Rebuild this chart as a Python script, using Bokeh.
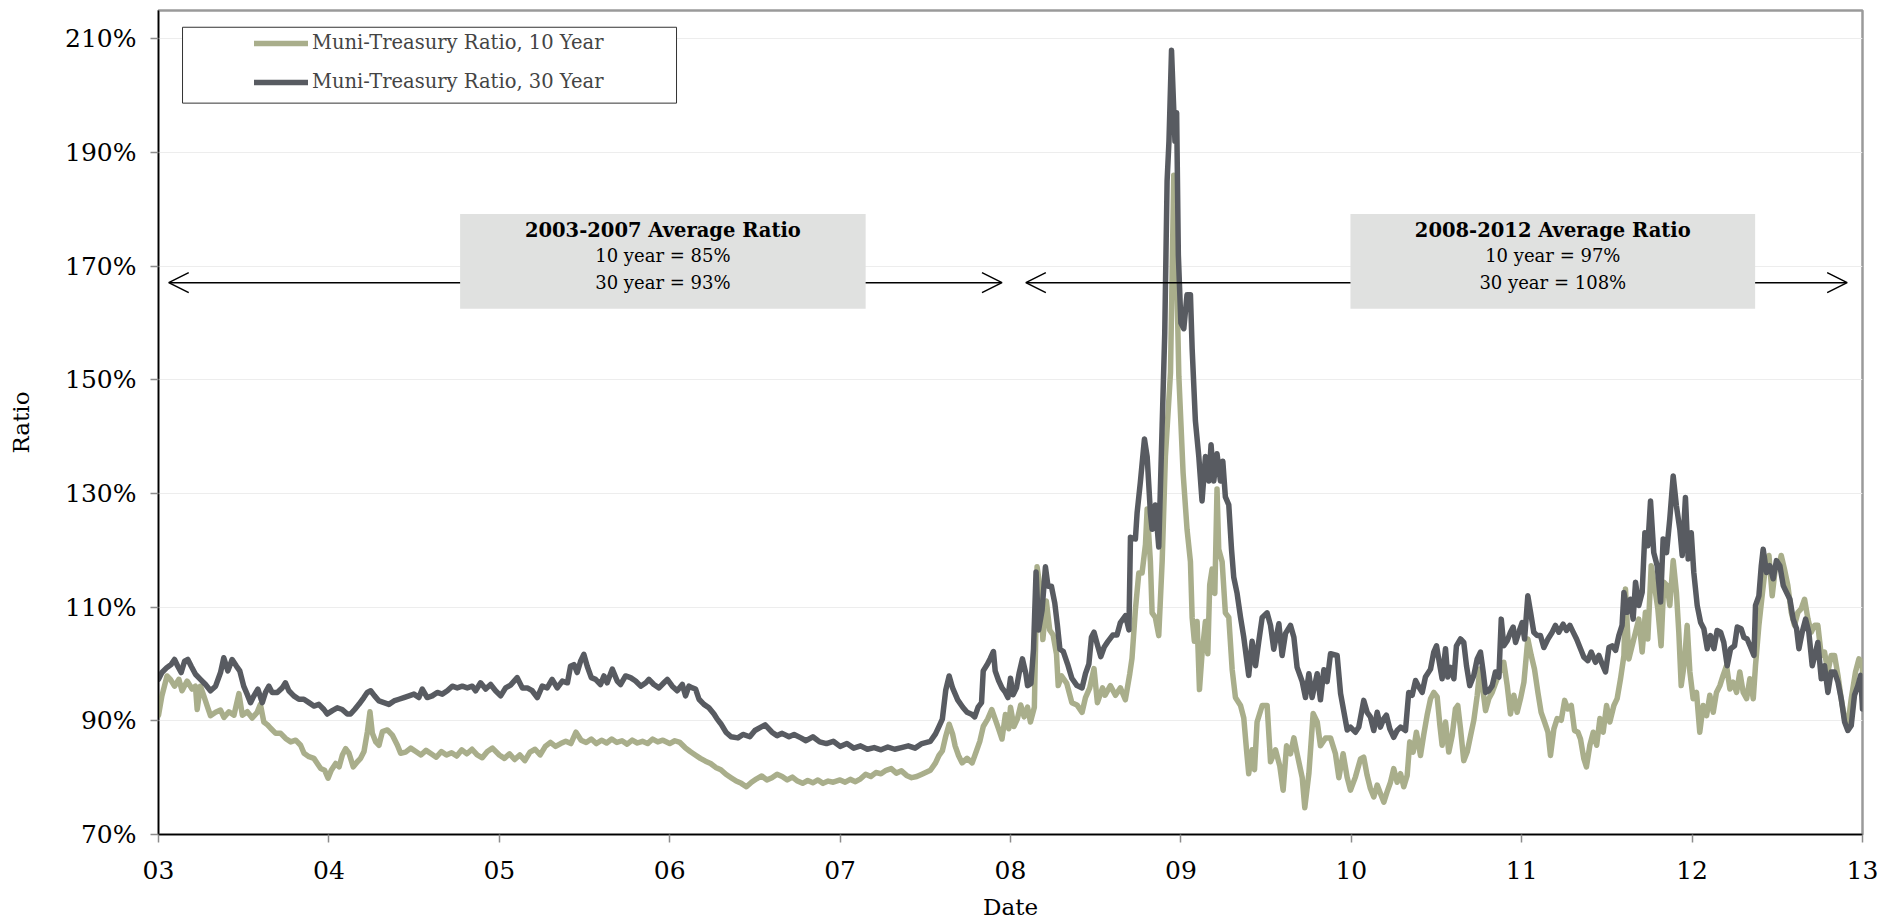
from bokeh.plotting import figure
from bokeh.models import (Range1d, FixedTicker, Legend, LegendItem, Arrow, OpenHead,
                          BoxAnnotation, ColumnDataSource, Label)
from bokeh.embed import file_html
from bokeh.resources import INLINE

# ---------------- data ----------------
# x = fractional year, y = muni / treasury ratio in %
ratio10_t = [
    2003.0, 2003.02, 2003.05, 2003.07, 2003.094, 2003.12, 2003.138, 2003.168, 2003.197, 2003.217,
    2003.227, 2003.246, 2003.266, 2003.286, 2003.305, 2003.335, 2003.364, 2003.384, 2003.413, 2003.443,
    2003.472, 2003.492, 2003.521, 2003.55, 2003.579, 2003.598, 2003.618, 2003.64, 2003.658, 2003.688,
    2003.717, 2003.746, 2003.776, 2003.805, 2003.834, 2003.854, 2003.883, 2003.912, 2003.932, 2003.952,
    2003.975, 2003.995, 2004.014, 2004.04, 2004.06, 2004.079, 2004.098, 2004.118, 2004.143, 2004.167,
    2004.186, 2004.206, 2004.226, 2004.241, 2004.255, 2004.275, 2004.294, 2004.314, 2004.343, 2004.372,
    2004.402, 2004.421, 2004.45, 2004.48, 2004.51, 2004.54, 2004.57, 2004.6, 2004.63, 2004.66,
    2004.69, 2004.72, 2004.75, 2004.78, 2004.81, 2004.84, 2004.87, 2004.9, 2004.93, 2004.96,
    2005.0, 2005.03, 2005.06, 2005.09, 2005.12, 2005.15, 2005.18, 2005.21, 2005.24, 2005.27,
    2005.3, 2005.33, 2005.36, 2005.39, 2005.42, 2005.45, 2005.48, 2005.51, 2005.54, 2005.57,
    2005.6, 2005.63, 2005.66, 2005.69, 2005.72, 2005.75, 2005.78, 2005.81, 2005.84, 2005.87,
    2005.9, 2005.93, 2005.96, 2006.0, 2006.03, 2006.06, 2006.09, 2006.12, 2006.15, 2006.18,
    2006.21, 2006.24, 2006.27, 2006.3, 2006.33, 2006.36, 2006.39, 2006.42, 2006.45, 2006.48,
    2006.51, 2006.54, 2006.57, 2006.6, 2006.63, 2006.66, 2006.69, 2006.72, 2006.75, 2006.78,
    2006.81, 2006.84, 2006.87, 2006.9, 2006.93, 2006.96, 2007.0, 2007.03, 2007.06, 2007.09,
    2007.12, 2007.15, 2007.18, 2007.21, 2007.24, 2007.27, 2007.3, 2007.33, 2007.36, 2007.39,
    2007.42, 2007.45, 2007.48, 2007.53, 2007.56, 2007.58, 2007.6, 2007.62, 2007.64, 2007.66,
    2007.675, 2007.695, 2007.716, 2007.745, 2007.775, 2007.8, 2007.82, 2007.84, 2007.866, 2007.89,
    2007.91, 2007.93, 2007.95, 2007.97, 2007.99, 2008.0, 2008.02, 2008.04, 2008.06, 2008.08,
    2008.1, 2008.117, 2008.14, 2008.156, 2008.176, 2008.19, 2008.21, 2008.23, 2008.25, 2008.27,
    2008.28, 2008.3, 2008.33, 2008.36, 2008.39, 2008.42, 2008.44, 2008.465, 2008.49, 2008.51,
    2008.54, 2008.555, 2008.586, 2008.616, 2008.645, 2008.674, 2008.7, 2008.713, 2008.733, 2008.753,
    2008.772, 2008.792, 2008.802, 2008.821, 2008.831, 2008.85, 2008.87, 2008.89, 2008.909, 2008.939,
    2008.958, 2008.975, 2008.988, 2009.013, 2009.036, 2009.056, 2009.066, 2009.079, 2009.095, 2009.109,
    2009.124, 2009.144, 2009.158, 2009.169, 2009.183, 2009.199, 2009.212, 2009.222, 2009.242, 2009.261,
    2009.281, 2009.301, 2009.32, 2009.35, 2009.369, 2009.385, 2009.398, 2009.418, 2009.432, 2009.447,
    2009.477, 2009.506, 2009.526, 2009.555, 2009.58, 2009.6, 2009.62, 2009.643, 2009.663, 2009.682,
    2009.712, 2009.727, 2009.751, 2009.776, 2009.8, 2009.819, 2009.849, 2009.878, 2009.907, 2009.927,
    2009.952, 2009.976, 2009.995, 2010.024, 2010.054, 2010.073, 2010.093, 2010.112, 2010.132, 2010.152,
    2010.171, 2010.191, 2010.21, 2010.23, 2010.249, 2010.269, 2010.289, 2010.308, 2010.328, 2010.343,
    2010.363, 2010.382, 2010.406, 2010.426, 2010.445, 2010.465, 2010.484, 2010.504, 2010.52, 2010.533,
    2010.553, 2010.572, 2010.592, 2010.611, 2010.625, 2010.641, 2010.66, 2010.68, 2010.7, 2010.719,
    2010.739, 2010.754, 2010.774, 2010.788, 2010.807, 2010.827, 2010.856, 2010.876, 2010.895, 2010.915,
    2010.934, 2010.954, 2010.973, 2010.993, 2011.013, 2011.036, 2011.056, 2011.075, 2011.095, 2011.114,
    2011.134, 2011.154, 2011.169, 2011.189, 2011.208, 2011.232, 2011.252, 2011.271, 2011.291, 2011.31,
    2011.33, 2011.345, 2011.365, 2011.38, 2011.4, 2011.42, 2011.44, 2011.459, 2011.478, 2011.498,
    2011.517, 2011.541, 2011.56, 2011.58, 2011.6, 2011.609, 2011.629, 2011.648, 2011.668, 2011.687,
    2011.707, 2011.726, 2011.74, 2011.76, 2011.779, 2011.799, 2011.818, 2011.834, 2011.854, 2011.869,
    2011.889, 2011.908, 2011.922, 2011.936, 2011.955, 2011.971, 2011.987, 2012.006, 2012.026, 2012.045,
    2012.065, 2012.085, 2012.104, 2012.124, 2012.143, 2012.163, 2012.182, 2012.202, 2012.222, 2012.241,
    2012.261, 2012.28, 2012.3, 2012.32, 2012.339, 2012.359, 2012.372, 2012.392, 2012.411, 2012.431,
    2012.451, 2012.47, 2012.49, 2012.509, 2012.523, 2012.542, 2012.562, 2012.582, 2012.601, 2012.621,
    2012.64, 2012.66, 2012.68, 2012.699, 2012.719, 2012.738, 2012.758, 2012.777, 2012.797, 2012.816,
    2012.836, 2012.856, 2012.875, 2012.895, 2012.914, 2012.934, 2012.959, 2012.979, 2012.998, 2013.0,
]
ratio10_v = [
    91.0, 94.4, 97.9, 97.3, 96.1, 97.3, 95.3, 97.0, 95.6, 96.1,
    92.0, 96.1, 94.4, 92.6, 90.9, 91.5, 91.9, 90.6, 91.6, 91.0,
    94.8, 91.0, 91.6, 90.5, 91.5, 92.9, 89.8, 89.3, 88.7, 87.8,
    87.8, 86.9, 86.3, 86.6, 85.7, 84.3, 83.7, 83.4, 82.5, 81.6,
    81.3, 79.9, 81.3, 82.5, 81.9, 84.0, 85.1, 84.3, 81.9, 82.8,
    83.4, 84.6, 88.1, 91.6, 87.8, 86.3, 85.7, 88.1, 88.4, 87.5,
    85.7, 84.3, 84.5, 85.2, 84.6, 84.0, 84.8, 84.2, 83.6, 84.6,
    84.0, 84.4, 83.8, 84.9, 84.2, 85.0, 84.0, 83.5, 84.6, 85.2,
    84.0, 83.4, 84.2, 83.2, 84.0, 83.0, 84.5, 85.0, 84.0, 85.5,
    86.2, 85.5, 86.0, 86.4, 86.0, 88.0, 86.6, 86.2, 86.8, 86.0,
    86.6, 86.1, 86.8, 86.2, 86.5, 85.9, 86.6, 86.1, 86.4, 86.0,
    86.8, 86.3, 86.6, 86.0, 86.5, 86.2, 85.3, 84.6, 84.0, 83.4,
    82.9, 82.5, 81.8, 81.4, 80.6, 80.0, 79.4, 79.0, 78.4, 79.2,
    79.8, 80.3, 79.6, 80.0, 80.6, 80.2, 79.6, 80.1, 79.4, 79.0,
    79.5, 79.1, 79.6, 79.0, 79.4, 79.2, 79.6, 79.2, 79.7, 79.3,
    79.8, 80.6, 80.2, 80.9, 80.7, 81.3, 81.6, 80.8, 81.2, 80.4,
    80.0, 80.2, 80.6, 81.3, 82.6, 83.9, 84.7, 87.3, 89.4, 87.7,
    85.6, 83.9, 82.6, 83.4, 82.6, 84.7, 86.4, 89.0, 90.3, 92.0,
    90.3, 88.6, 86.8, 91.1, 88.6, 92.4, 89.0, 90.3, 92.8, 90.7,
    92.4, 89.8, 92.4, 117.1, 112.9, 104.3, 111.1, 106.0, 105.1, 101.7,
    96.2, 97.9, 96.6, 93.2, 92.8, 91.5, 94.1, 95.8, 99.2, 93.2,
    95.8, 94.5, 96.2, 94.5, 95.8, 93.7, 98.3, 101.0, 109.6, 116.0,
    116.0, 121.0, 127.3, 118.0, 109.0, 108.2, 105.0, 118.0, 136.5, 151.3,
    186.0, 169.0, 150.6, 133.6, 123.7, 118.0, 108.2, 104.0, 107.5, 95.5,
    101.8, 107.5, 101.8, 113.9, 116.7, 112.4, 130.8, 120.2, 118.0, 109.0,
    108.2, 99.0, 94.1, 92.7, 90.5, 84.9, 80.7, 84.9, 81.4, 89.8,
    92.7, 92.7, 82.8, 84.9, 82.1, 77.8, 85.6, 84.2, 87.0, 84.2,
    80.0, 74.7, 80.7, 91.3, 89.8, 85.6, 87.0, 87.0, 84.2, 80.0,
    84.2, 80.0, 77.8, 80.1, 83.3, 83.6, 80.4, 78.1, 76.6, 78.7,
    77.2, 75.7, 77.5, 79.2, 81.6, 79.2, 80.7, 78.4, 80.4, 86.3,
    84.5, 88.0, 83.9, 87.7, 91.0, 93.9, 95.0, 94.2, 89.2, 85.7,
    89.8, 84.5, 87.4, 92.1, 92.7, 88.6, 83.0, 84.5, 87.4, 90.1,
    94.5, 99.1, 95.0, 91.8, 93.9, 95.0, 97.4, 99.1, 100.3, 96.2,
    91.2, 94.5, 91.5, 93.9, 96.8, 104.4, 101.5, 99.1, 95.0, 91.5,
    89.8, 88.0, 83.9, 88.6, 90.4, 90.1, 93.6, 92.1, 92.7, 88.3,
    88.0, 86.8, 83.3, 81.9, 85.7, 88.0, 85.7, 90.4, 88.0, 92.7,
    89.8, 92.7, 93.9, 97.4, 101.5, 113.2, 100.9, 103.2, 105.6, 107.9,
    102.1, 109.1, 104.4, 117.3, 113.8, 109.7, 103.2, 114.4, 113.8, 110.3,
    118.2, 112.6, 105.6, 96.2, 100.3, 106.8, 98.6, 93.9, 95.0, 88.0,
    92.7, 90.9, 94.5, 91.5, 95.0, 96.2, 98.0, 99.7, 95.6, 96.8,
    95.0, 98.6, 95.0, 93.9, 97.4, 93.9, 99.7, 106.8, 112.0, 117.3,
    119.1, 112.0, 117.3, 117.3, 119.1, 116.7, 113.8, 109.1, 106.8, 109.1,
    109.7, 111.4, 107.9, 105.6, 106.8, 106.8, 101.5, 102.1, 98.6, 101.5,
    101.5, 98.0, 93.9, 90.4, 89.2, 93.9, 98.6, 100.9, 100.3, 98.6,
]

ratio30_t = [
    2003.0, 2003.02, 2003.05, 2003.074, 2003.094, 2003.113, 2003.133, 2003.153, 2003.172, 2003.192,
    2003.217, 2003.246, 2003.276, 2003.305, 2003.335, 2003.364, 2003.383, 2003.407, 2003.432, 2003.458,
    2003.477, 2003.5, 2003.52, 2003.54, 2003.56, 2003.583, 2003.609, 2003.628, 2003.648, 2003.667,
    2003.697, 2003.726, 2003.745, 2003.765, 2003.794, 2003.824, 2003.853, 2003.883, 2003.912, 2003.941,
    2003.971, 2003.99, 2004.02, 2004.049, 2004.078, 2004.108, 2004.127, 2004.151, 2004.176, 2004.205,
    2004.225, 2004.245, 2004.268, 2004.294, 2004.323, 2004.352, 2004.382, 2004.411, 2004.44, 2004.47,
    2004.499, 2004.528, 2004.548, 2004.577, 2004.606, 2004.636, 2004.665, 2004.695, 2004.724, 2004.753,
    2004.783, 2004.812, 2004.841, 2004.861, 2004.89, 2004.92, 2004.949, 2004.978, 2005.008, 2005.037,
    2005.066, 2005.105, 2005.135, 2005.164, 2005.193, 2005.223, 2005.252, 2005.281, 2005.31, 2005.34,
    2005.37, 2005.4, 2005.418, 2005.438, 2005.457, 2005.477, 2005.496, 2005.516, 2005.54, 2005.565,
    2005.594, 2005.614, 2005.633, 2005.663, 2005.692, 2005.712, 2005.741, 2005.77, 2005.8, 2005.83,
    2005.86, 2005.878, 2005.907, 2005.937, 2005.966, 2005.986, 2006.015, 2006.044, 2006.074, 2006.093,
    2006.113, 2006.133, 2006.152, 2006.172, 2006.201, 2006.23, 2006.26, 2006.279, 2006.3, 2006.33,
    2006.36, 2006.4, 2006.43, 2006.47, 2006.5, 2006.53, 2006.56, 2006.6, 2006.63, 2006.66,
    2006.7, 2006.73, 2006.77, 2006.8, 2006.84, 2006.88, 2006.92, 2006.96, 2007.0, 2007.04,
    2007.08, 2007.12, 2007.16, 2007.2, 2007.24, 2007.28, 2007.32, 2007.36, 2007.4, 2007.44,
    2007.48, 2007.53, 2007.56, 2007.58, 2007.6, 2007.62, 2007.64, 2007.66, 2007.69, 2007.72,
    2007.745, 2007.775, 2007.79, 2007.81, 2007.83, 2007.84, 2007.865, 2007.88, 2007.9, 2007.91,
    2007.93, 2007.95, 2007.97, 2007.985, 2008.0, 2008.015, 2008.035, 2008.05, 2008.07, 2008.09,
    2008.1, 2008.12, 2008.135, 2008.15, 2008.165, 2008.185, 2008.205, 2008.22, 2008.24, 2008.26,
    2008.275, 2008.29, 2008.31, 2008.335, 2008.36, 2008.39, 2008.42, 2008.44, 2008.46, 2008.475,
    2008.49, 2008.51, 2008.53, 2008.55, 2008.57, 2008.6, 2008.625, 2008.645, 2008.675, 2008.695,
    2008.704, 2008.733, 2008.743, 2008.762, 2008.786, 2008.802, 2008.821, 2008.831, 2008.85, 2008.87,
    2008.89, 2008.905, 2008.919, 2008.93, 2008.945, 2008.955, 2008.965, 2008.975, 2008.985, 2009.0,
    2009.017, 2009.036, 2009.056, 2009.066, 2009.085, 2009.105, 2009.124, 2009.144, 2009.164, 2009.177,
    2009.193, 2009.212, 2009.232, 2009.246, 2009.261, 2009.281, 2009.297, 2009.31, 2009.33, 2009.35,
    2009.369, 2009.398, 2009.418, 2009.438, 2009.457, 2009.477, 2009.506, 2009.526, 2009.545, 2009.575,
    2009.594, 2009.614, 2009.643, 2009.663, 2009.682, 2009.712, 2009.731, 2009.751, 2009.77, 2009.8,
    2009.819, 2009.839, 2009.858, 2009.878, 2009.917, 2009.937, 2009.976, 2009.995, 2010.024, 2010.044,
    2010.073, 2010.093, 2010.112, 2010.132, 2010.152, 2010.171, 2010.191, 2010.206, 2010.226, 2010.249,
    2010.269, 2010.289, 2010.318, 2010.337, 2010.357, 2010.377, 2010.396, 2010.416, 2010.435, 2010.465,
    2010.484, 2010.5, 2010.52, 2010.533, 2010.553, 2010.566, 2010.582, 2010.602, 2010.617, 2010.641,
    2010.66, 2010.676, 2010.695, 2010.719, 2010.739, 2010.758, 2010.774, 2010.788, 2010.807, 2010.827,
    2010.846, 2010.866, 2010.88, 2010.895, 2010.915, 2010.934, 2010.95, 2010.964, 2010.983, 2011.003,
    2011.017, 2011.036, 2011.052, 2011.071, 2011.091, 2011.11, 2011.13, 2011.154, 2011.179, 2011.198,
    2011.218, 2011.243, 2011.263, 2011.283, 2011.302, 2011.322, 2011.345, 2011.365, 2011.388, 2011.408,
    2011.433, 2011.453, 2011.472, 2011.492, 2011.512, 2011.531, 2011.551, 2011.57, 2011.589, 2011.6,
    2011.619, 2011.638, 2011.654, 2011.668, 2011.687, 2011.707, 2011.723, 2011.74, 2011.756, 2011.775,
    2011.795, 2011.815, 2011.83, 2011.85, 2011.869, 2011.889, 2011.908, 2011.928, 2011.942, 2011.961,
    2011.977, 2011.995, 2012.01, 2012.03, 2012.05, 2012.069, 2012.089, 2012.108, 2012.128, 2012.147,
    2012.167, 2012.186, 2012.206, 2012.226, 2012.249, 2012.265, 2012.288, 2012.304, 2012.323, 2012.343,
    2012.363, 2012.372, 2012.392, 2012.406, 2012.417, 2012.437, 2012.456, 2012.476, 2012.495, 2012.515,
    2012.535, 2012.554, 2012.574, 2012.593, 2012.613, 2012.627, 2012.646, 2012.666, 2012.685, 2012.705,
    2012.725, 2012.738, 2012.758, 2012.777, 2012.797, 2012.816, 2012.836, 2012.856, 2012.875, 2012.895,
    2012.914, 2012.934, 2012.953, 2012.973, 2012.989, 2013.0,
]
ratio30_v = [
    97.3, 98.5, 99.4, 99.9, 100.8, 99.6, 98.5, 100.5, 100.8, 99.6,
    98.2, 97.3, 96.4, 95.3, 96.1, 98.5, 101.1, 98.8, 100.8, 99.6,
    98.8, 96.1, 94.7, 93.2, 94.4, 95.6, 93.2, 95.0, 96.1, 95.0,
    95.0, 95.8, 96.7, 95.3, 94.4, 93.8, 93.8, 93.2, 92.6, 92.9,
    92.0, 91.2, 91.8, 92.3, 92.0, 91.2, 91.2, 92.0, 92.9, 94.1,
    95.0, 95.3, 94.4, 93.5, 93.2, 92.9, 93.5, 93.8, 94.1, 94.4,
    94.7, 94.1, 95.6, 94.1, 94.4, 95.0, 94.7, 95.3, 96.1, 95.8,
    96.1, 95.8, 96.1, 95.3, 96.7, 95.6, 96.4, 95.3, 94.4, 95.8,
    96.3, 97.6, 95.8, 95.8, 95.3, 94.1, 96.1, 95.8, 97.3, 95.8,
    97.0, 96.7, 99.6, 99.9, 98.5, 100.5, 101.7, 99.6, 97.6, 97.3,
    96.4, 97.9, 96.7, 99.1, 97.0, 96.4, 97.9, 97.6, 97.0, 96.1,
    96.7, 97.3, 96.4, 95.8, 96.7, 97.3, 96.1, 95.3, 96.4, 94.4,
    96.1, 95.8, 95.6, 93.8, 92.9, 92.3, 91.2, 90.3, 89.5, 88.0,
    87.2, 87.0, 87.6, 87.2, 88.3, 88.8, 89.3, 88.0, 87.4, 87.8,
    87.2, 87.6, 87.0, 86.5, 87.2, 86.3, 86.0, 86.4, 85.5, 86.0,
    85.2, 85.6, 85.0, 85.3, 84.9, 85.4, 85.0, 85.3, 85.6, 85.2,
    86.0, 86.4, 87.7, 89.0, 90.3, 95.4, 97.9, 95.8, 93.7, 92.4,
    91.5, 91.1, 90.7, 92.4, 93.2, 98.8, 100.0, 100.9, 102.2, 98.8,
    97.1, 95.8, 95.0, 94.1, 97.5, 94.6, 95.8, 98.3, 100.9, 98.3,
    96.2, 96.6, 102.6, 116.2, 106.0, 109.4, 117.1, 113.7, 113.7, 110.7,
    106.9, 102.6, 102.2, 100.0, 97.5, 96.2, 95.8, 98.3, 100.0, 104.7,
    105.6, 103.4, 101.3, 103.0, 103.9, 105.1, 105.1, 107.3, 108.5, 106.0,
    122.3, 122.0, 126.6, 132.0, 139.6, 136.5, 126.6, 123.7, 128.0, 120.6,
    142.0, 158.0, 185.0, 192.0, 208.0, 200.0, 192.0, 197.0, 172.0, 160.0,
    159.0, 165.0, 165.0, 155.5, 142.8, 136.5, 128.7, 136.5, 132.2, 138.6,
    132.2, 137.0, 132.2, 135.7, 129.4, 128.0, 120.2, 115.3, 112.4, 108.2,
    104.7, 98.0, 104.0, 99.7, 104.0, 108.2, 109.0, 106.8, 102.6, 107.1,
    101.5, 105.4, 106.8, 104.7, 99.4, 96.9, 94.1, 98.3, 94.1, 98.3,
    93.7, 99.0, 96.9, 101.8, 101.5, 94.8, 88.4, 88.9, 88.0, 88.9,
    93.6, 91.5, 90.7, 88.3, 91.5, 88.9, 90.4, 91.0, 88.6, 87.1,
    88.3, 88.9, 88.3, 95.0, 94.5, 97.1, 96.0, 95.0, 97.7, 99.1,
    102.1, 103.2, 99.7, 97.4, 102.7, 97.7, 99.4, 97.4, 103.2, 104.4,
    103.8, 99.7, 96.2, 98.0, 100.9, 102.1, 98.6, 95.0, 95.3, 96.2,
    98.6, 97.7, 107.9, 103.2, 104.1, 105.6, 106.5, 103.8, 105.6, 107.3,
    104.4, 112.0, 109.1, 105.6, 105.0, 105.0, 102.9, 104.4, 105.6, 106.8,
    105.6, 107.0, 105.9, 106.8, 105.6, 104.4, 102.7, 101.2, 100.6, 102.1,
    100.3, 101.5, 100.0, 98.6, 102.9, 103.2, 102.4, 105.0, 106.8, 112.6,
    109.1, 111.4, 107.9, 114.4, 110.3, 112.6, 123.1, 120.8, 128.7, 119.6,
    117.3, 110.9, 122.0, 119.6, 125.5, 133.1, 127.8, 123.7, 119.1, 129.3,
    118.5, 123.1, 116.1, 110.3, 107.3, 106.2, 102.7, 105.0, 102.7, 105.9,
    105.6, 103.8, 99.7, 102.7, 103.2, 106.5, 106.2, 104.7, 104.4, 103.0,
    101.5, 110.3, 112.0, 117.3, 120.2, 116.1, 117.3, 115.0, 118.2, 117.3,
    113.8, 112.6, 111.4, 107.9, 106.2, 102.7, 105.6, 107.9, 105.6, 99.7,
    102.1, 103.8, 97.4, 99.7, 95.0, 98.6, 98.6, 96.8, 93.9, 89.8,
    88.3, 89.2, 94.5, 96.2, 98.0, 92.1,
]

series_names = ["Muni-Treasury Ratio, 10 Year", "Muni-Treasury Ratio, 30 Year"]
series_colors = ["#A9AE8B", "#585B61"]

y_ticks = [70, 90, 110, 130, 150, 170, 190, 210]
y_labels = ["70%", "90%", "110%", "130%", "150%", "170%", "190%", "210%"]
x_ticks = [2003, 2004, 2005, 2006, 2007, 2008, 2009, 2010, 2011, 2012, 2013]
x_labels = ["03", "04", "05", "06", "07", "08", "09", "10", "11", "12", "13"]

period_titles = ["2003-2007 Average Ratio", "2008-2012 Average Ratio"]
period_10yr = ["10 year = 85%", "10 year = 97%"]
period_30yr = ["30 year = 93%", "30 year = 108%"]

# annotation placement (data units)
arrow_x_start = [2003.06, 2008.09]
arrow_x_end = [2007.95, 2012.91]
arrow_y = 167.1
box_left = [2004.77, 2009.995]
box_right = [2007.15, 2012.37]
box_top = 179.2
box_bottom = 162.5
text_y = [176.2, 171.8, 167.1]
legend_frame = dict(left=2003.141, right=2006.04, top=212.05, bottom=198.7)

FONT = "DejaVu Serif"

# ---------------- figure ----------------
p = figure(width=1890, height=922,
           x_range=Range1d(2003, 2013), y_range=Range1d(70, 215),
           output_backend="svg", toolbar_location=None,
           min_border_left=158, min_border_right=28,
           min_border_top=10, min_border_bottom=86)
p.background_fill_color = "white"
p.border_fill_color = "white"
p.outline_line_color = "#9A9A9A"
p.outline_line_width = 2.5

p.xgrid.visible = False
p.ygrid.grid_line_color = "#EDEDED"
p.ygrid.grid_line_width = 1

for ax in (p.xaxis[0], p.yaxis[0]):
    ax.axis_line_color = "black"
    ax.axis_line_width = 1.5
    ax.major_tick_line_color = "#8C8C8C"
    ax.major_tick_line_width = 1.5
    ax.major_tick_out = 8
    ax.major_tick_in = 0
    ax.minor_tick_line_color = None
    ax.major_label_text_font = FONT
    ax.major_label_text_font_size = "25px"
    ax.major_label_text_color = "black"
    ax.axis_label_text_font = FONT
    ax.axis_label_text_font_size = "23px"
    ax.axis_label_text_font_style = "normal"
    ax.axis_label_text_color = "black"

p.yaxis.ticker = FixedTicker(ticks=y_ticks)
p.yaxis.major_label_overrides = {t: l for t, l in zip(y_ticks, y_labels)}
p.yaxis.major_label_standoff = 14
p.yaxis.axis_label = "Ratio"
p.yaxis.axis_label_standoff = 28

p.xaxis.ticker = FixedTicker(ticks=x_ticks)
p.xaxis.major_label_overrides = {t: l for t, l in zip(x_ticks, x_labels)}
p.xaxis.major_label_standoff = 18
p.xaxis.axis_label = "Date"
p.xaxis.axis_label_standoff = 12

src10 = ColumnDataSource(dict(x=ratio10_t, y=ratio10_v))
src30 = ColumnDataSource(dict(x=ratio30_t, y=ratio30_v))
r10 = p.line("x", "y", source=src10, line_color=series_colors[0], line_width=5.5,
             line_join="round", line_cap="round")
r30 = p.line("x", "y", source=src30, line_color=series_colors[1], line_width=5.5,
             line_join="round", line_cap="round")

# arrows (behind the grey boxes)
for xs, xe in zip(arrow_x_start, arrow_x_end):
    p.add_layout(Arrow(start=OpenHead(size=20, line_width=1.5, line_color="black"),
                       end=OpenHead(size=20, line_width=1.5, line_color="black"),
                       x_start=xs, y_start=arrow_y, x_end=xe, y_end=arrow_y,
                       line_width=1.5, line_color="black"))

for i in range(2):
    p.add_layout(BoxAnnotation(left=box_left[i], right=box_right[i], top=box_top,
                               bottom=box_bottom, fill_color="#E0E1E0", fill_alpha=1.0,
                               line_alpha=0))
    cx = (box_left[i] + box_right[i]) / 2
    p.add_layout(Label(x=cx, y=text_y[0], text=period_titles[i], text_align="center",
                       text_baseline="middle", text_font=FONT, text_font_size="19.5px",
                       text_font_style="bold", text_color="black"))
    p.add_layout(Label(x=cx, y=text_y[1], text=period_10yr[i], text_align="center",
                       text_baseline="middle", text_font=FONT, text_font_size="18px",
                       text_color="black"))
    p.add_layout(Label(x=cx, y=text_y[2], text=period_30yr[i], text_align="center",
                       text_baseline="middle", text_font=FONT, text_font_size="18px",
                       text_color="black"))

# legend frame + legend
p.add_layout(BoxAnnotation(fill_color="white", fill_alpha=1.0, line_color="#333333",
                           line_width=1, line_alpha=1.0, **legend_frame))
legend = Legend(items=[LegendItem(label=series_names[0], renderers=[r10]),
                       LegendItem(label=series_names[1], renderers=[r30])],
                location=(96, 741), padding=0, margin=0, spacing=16,
                glyph_width=54, glyph_height=22, label_height=22, label_standoff=4,
                label_text_font=FONT, label_text_font_size="19.5px",
                border_line_alpha=0, background_fill_alpha=0)
p.add_layout(legend)

open("out.html", "w").write(file_html(p, INLINE))
